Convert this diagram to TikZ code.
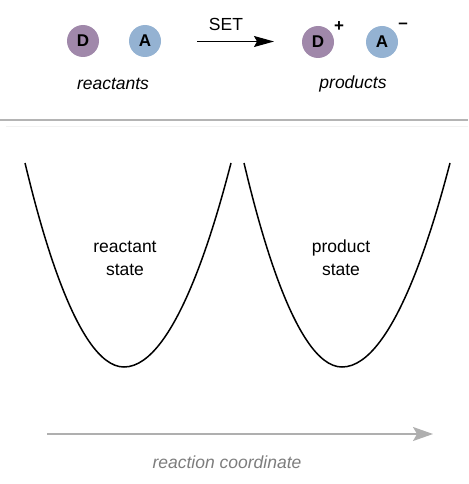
\documentclass[tikz,border=0pt]{standalone}
\usepackage{fontspec}
\setmainfont{Liberation Sans}
\definecolor{DonorPurple}{RGB}{160,136,170}
\definecolor{AcceptorBlue}{RGB}{148,178,210}
\definecolor{RuleGray}{RGB}{180,180,180}
\definecolor{FaintGray}{RGB}{242,242,242}
\definecolor{AxisGray}{RGB}{175,175,175}
\definecolor{AxisText}{RGB}{125,125,125}
\usetikzlibrary{positioning, arrows.meta}

\begin{document}
\begin{tikzpicture}[x=1pt, y=-1pt,
  donor/.style={circle, fill=DonorPurple, minimum size=32pt, inner sep=0pt, font=\fontsize{17pt}{19pt}\selectfont\bfseries},
  acceptor/.style={circle, fill=AcceptorBlue, minimum size=32pt, inner sep=0pt, font=\fontsize{17pt}{19pt}\selectfont\bfseries},
  charge/.style={inner sep=0pt, font=\fontsize{17pt}{19pt}\selectfont\bfseries},
  label/.style={inner sep=0pt, font=\fontsize{17.5pt}{23pt}\selectfont, align=center},
  arrow/.style={-{Stealth[length=20pt, width=11pt, inset=3pt]}, line width=1.1pt},
  axis/.style={-{Stealth[length=20pt, width=14pt, inset=4pt]}, line width=1.3pt, AxisGray},
  well/.style={line width=1.5pt}
]
\useasboundingbox (0,0) rectangle (468,484);

\node[donor] (d1) at (83,41) {D};
\node[acceptor] (a1) at (145,41) {A};
\node[label, font=\fontsize{17.5pt}{23pt}\selectfont\itshape] (reac) at (113,84) {reactants};

\coordinate (setstart) at (197,41.5);
\coordinate (setend) at (274,41.5);
\draw[arrow] (setstart) -- (setend);
\node[label] (set) at (226,24) {SET};

\node[donor] (d2) at (318,42) {D};
\node[acceptor] (a2) at (382,42) {A};
\node[charge] (plus) at (339,27) {+};
\node[charge] (minus) at (403,26) {–};
\node[label, font=\fontsize{17.5pt}{23pt}\selectfont\itshape] (prod) at (353,84) {products};

% separator
\draw[RuleGray, line width=2pt] (0,120) -- (468,120);
\draw[FaintGray, line width=1pt] (6,126) -- (468,126);

% potential wells
\draw[well] (25,163) parabola bend (124,367) (231,163);
\draw[well] (244,163) parabola bend (342,367) (450,163);
\node[label] (rstate) at (125,258) {reactant\\state};
\node[label] (pstate) at (341,258) {product\\state};

% reaction coordinate
\coordinate (rcstart) at (47,434);
\coordinate (rcend) at (433,434);
\draw[axis] (rcstart) -- (rcend);
\node[label, font=\fontsize{17.5pt}{23pt}\selectfont\itshape, AxisText] (rc) at (227,462) {reaction coordinate};

\end{tikzpicture}
\end{document}
